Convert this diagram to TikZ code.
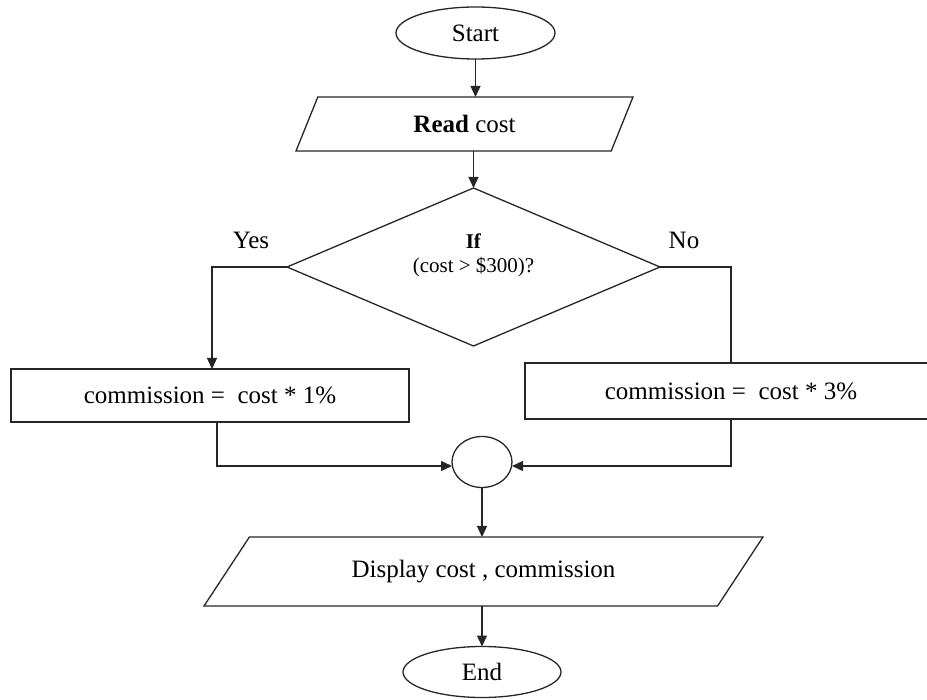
\documentclass[tikz,border=0pt]{standalone}
\usepackage{fontspec}
\setmainfont{Liberation Serif}
\usetikzlibrary{shapes.geometric,arrows.meta}

\begin{document}
\begin{tikzpicture}[x=1pt,y=-1pt,
  every node/.style={inner sep=0pt,outer sep=0pt},
  txt/.style={font=\fontsize{25}{30}\selectfont},
  small/.style={font=\fontsize{21}{24}\selectfont},
  shp/.style={draw=black!85,line width=1.3pt,txt},
  terminal/.style={shp,ellipse,minimum width=159pt,minimum height=52pt},
  iobox/.style={shp,trapezium,trapezium stretches body},
  procbox/.style={shp,rectangle},
  decision/.style={shp,diamond,aspect=2.36,minimum width=373pt,minimum height=158pt},
  junction/.style={shp,ellipse,minimum width=60pt,minimum height=51pt},
  link/.style={draw=black!85,line width=1.3pt},
  arr/.style={link,-{Triangle[length=11pt,width=10pt]}}
]
\useasboundingbox (0,0) rectangle (927,700);

% flowchart shapes
\node[terminal] (start) at (475.5,33) {Start};
\node[iobox,minimum width=337pt,minimum height=54pt,
      trapezium left angle=38.9,trapezium right angle=141.1]
      (read) at (464.5,124) {\textbf{Read} cost};
\node[decision] (dia) at (473.5,267) {};
\node[small,align=center] (cond) at (473.5,255) {\textbf{If}\\(cost > \$300)?};
\node[procbox,minimum width=398pt,minimum height=53pt] (lbox) at (210,395.5)
      {commission =\ \ cost * 1\%};
\node[procbox,minimum width=412pt,minimum height=56pt] (rbox) at (731,391)
      {commission =\ \ cost * 3\%};
\node[junction] (junc) at (482,462) {};
\node[iobox,minimum width=559pt,minimum height=69pt,
      trapezium left angle=26.6,trapezium right angle=153.4]
      (disp) at (483.5,571.5) {Display cost , commission};
\node[terminal,minimum width=158pt,minimum height=51pt] (end) at (482,672) {End};

% branch labels
\node[txt] (yes) at (251,240) {Yes};
\node[txt] (no) at (684,240) {No};

% connectors
\draw[arr] (start.south) -- (start.south |- read.north);
\draw[arr] (dia.north |- read.south) -- (dia.north);
\draw[arr] (dia.west) -| ([xshift=2pt]lbox.north);
\draw[link] (dia.east) -| (rbox.north);
\draw[arr] ([xshift=7pt]lbox.south) |- ([yshift=-4pt]junc.west);
\draw[arr] (rbox.south) |- ([yshift=-4pt]junc.east);
\draw[arr] (junc.south) -- (junc.south |- disp.north);
\draw[arr] (end.north |- disp.south) -- (end.north);
\end{tikzpicture}
\end{document}
